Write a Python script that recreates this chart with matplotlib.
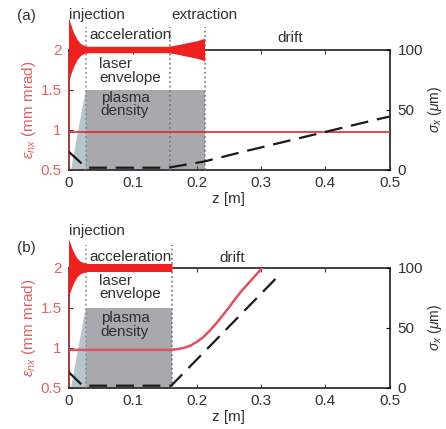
import matplotlib
matplotlib.use("Agg")
import matplotlib.pyplot as plt

plt.rcParams['font.family'] = ['Liberation Sans', 'DejaVu Sans']
plt.rcParams['mathtext.fontset'] = 'custom'
plt.rcParams['mathtext.rm'] = 'Liberation Sans'
plt.rcParams['mathtext.it'] = 'Liberation Sans:italic'

# ---------------- data ----------------
# panel (a)
env_a_z = [0.0, 0.004, 0.008, 0.013, 0.018, 0.024, 0.030, 0.155, 0.170, 0.185, 0.200, 0.212]
env_a_hw = [0.40, 0.30, 0.21, 0.13, 0.08, 0.05, 0.04, 0.04, 0.06, 0.085, 0.11, 0.14]
ramp_a_z = [0.003, 0.026, 0.028]
ramp_a_top = [0.5, 1.5, 1.5]
plasma_a_z = [0.028, 0.212]
plasma_a_top = [1.5, 1.5]
eps_a_z = [0.0, 0.5]
eps_a = [0.965, 0.965]
sig_a_z = [0.0, 0.026, 0.030, 0.155, 0.180, 0.210, 0.272, 0.488, 0.500]
sig_a = [15.0, 2.3, 1.5, 1.5, 3.8, 6.5, 14.8, 42.7, 44.0]
vlines_a = [0.028, 0.158, 0.212]

# panel (b)
env_b_z = [0.0, 0.004, 0.008, 0.013, 0.018, 0.024, 0.030, 0.161]
env_b_hw = [0.36, 0.27, 0.19, 0.12, 0.08, 0.06, 0.05, 0.05]
ramp_b_z = [0.003, 0.026, 0.028]
ramp_b_top = [0.5, 1.5, 1.5]
plasma_b_z = [0.028, 0.161]
plasma_b_top = [1.5, 1.5]
eps_b_z = [0.0, 0.16, 0.17, 0.18, 0.19, 0.20, 0.21, 0.22, 0.23, 0.24, 0.25,
           0.26, 0.27, 0.28, 0.29, 0.30, 0.302]
eps_b = [0.97, 0.97, 0.98, 0.995, 1.025, 1.07, 1.13, 1.21, 1.30, 1.40, 1.50,
         1.61, 1.71, 1.80, 1.89, 1.98, 2.0]
sig_b_z = [0.0, 0.023, 0.030, 0.160, 0.327]
sig_b = [13.0, 1.0, 1.5, 1.5, 93.0]
vlines_b = [0.028, 0.161]

xticks = [0, 0.1, 0.2, 0.3, 0.4, 0.5]
xticklabels = ['0', '0.1', '0.2', '0.3', '0.4', '0.5']
lticks = [0.5, 1, 1.5, 2]
lticklabels = ['0.5', '1', '1.5', '2']
rticks = [0, 50, 100]
rticklabels = ['0', '50', '100']

RED = '#ee2020'
LRED = '#e06060'
TXT = '#303030'
FS = 11

fig = plt.figure(figsize=(4.46, 4.29), dpi=100)


def panel(rect, env_z, env_hw, ramp_z, ramp_top, pl_z, pl_top, ez, ev, sz, sv,
          vls, eps_color, eps_lw, tag, tag_y, labels):
    ax = fig.add_axes(rect)
    ax.set_xlim(0, 0.5)
    ax.set_ylim(0.5, 2)
    # plasma density
    ax.fill_between(ramp_z, [0.5] * len(ramp_z), ramp_top, color='#b7c4cc', lw=0, zorder=1)
    ax.fill_between(pl_z, [0.5] * len(pl_z), pl_top, color='#a9a9ad', lw=0, zorder=1)
    # laser envelope
    lo = [2 - h for h in env_hw]
    hi = [2 + h for h in env_hw]
    ax.fill_between(env_z, lo, hi, color=RED, lw=0, zorder=4, clip_on=False)
    # vertical dotted lines
    for i, v in enumerate(vls):
        ax.plot([v, v], [0.5, 2.28], ls=(0, (1.2, 1.8)), lw=1.1,
                color='#7a8a95' if i == 0 else '#707070', zorder=3, clip_on=False)
    # emittance
    ax.plot(ez, ev, color=eps_color, lw=eps_lw, zorder=5)
    ax.set_xticks(xticks)
    ax.set_xticklabels(xticklabels)
    ax.set_yticks(lticks)
    ax.set_yticklabels(lticklabels)
    ax.tick_params(axis='x', direction='in', top=True, length=3, pad=5,
                   labelsize=FS, labelcolor=TXT, color='#404040')
    ax.tick_params(axis='y', direction='in', right=True, length=3, pad=5,
                   labelsize=FS, labelcolor=LRED, color='#404040')
    ax.set_xlabel('z [m]', fontsize=FS, color=TXT, labelpad=1)
    ax.set_ylabel(r'$\varepsilon_{nx}$ (mm mrad)', fontsize=FS, color=LRED, labelpad=2)
    for s in ['top', 'bottom', 'right']:
        ax.spines[s].set_color('#303030')
        ax.spines[s].set_linewidth(1.3)
    ax.spines['left'].set_color('#903030')
    ax.spines['left'].set_linewidth(1.3)
    ax.set_zorder(1)
    ax.patch.set_visible(False)

    ax2 = ax.twinx()
    ax2.set_ylim(0, 100)
    ax2.plot(sz, sv, color='#1a1a1a', lw=1.6, dashes=(8, 4), zorder=6)
    ax2.set_yticks(rticks)
    ax2.set_yticklabels(rticklabels)
    ax2.tick_params(axis='y', direction='in', length=3, pad=6, labelsize=FS,
                    labelcolor=TXT)
    ax2.set_ylabel(r'$\sigma_x$ ($\mu$m)', fontsize=FS - 1, color=TXT, labelpad=2)
    for s in ax2.spines.values():
        s.set_visible(False)
    ax2.set_zorder(2)

    # annotations
    fig.text(17 / 446, 1 - tag_y / 429, tag, fontsize=FS, color=TXT,
             ha='left', va='center')
    for (x, y, s, ha) in labels:
        ax.text(x, y, s, fontsize=FS, color=TXT, ha=ha, va='center',
                linespacing=0.95, zorder=7)
    return ax


labels_a = [(0.001, 2.43, 'injection', 'left'),
            (0.161, 2.43, 'extraction', 'left'),
            (0.032, 2.18, 'acceleration', 'left'),
            (0.345, 2.14, 'drift', 'center'),
            (0.048, 1.73, 'laser\nenvelope', 'left'),
            (0.050, 1.31, 'plasma\ndensity', 'left')]
labels_b = [(0.001, 2.45, 'injection', 'left'),
            (0.032, 2.135, 'acceleration', 'left'),
            (0.255, 2.12, 'drift', 'center'),
            (0.048, 1.75, 'laser\nenvelope', 'left'),
            (0.050, 1.28, 'plasma\ndensity', 'left')]

L = 68.5 / 446
W = 321 / 446
H = 120 / 429
panel([L, 1 - 169.5 / 429, W, H], env_a_z, env_a_hw, ramp_a_z, ramp_a_top,
      plasma_a_z, plasma_a_top, eps_a_z, eps_a, sig_a_z, sig_a, vlines_a,
      '#e02828', 1.2, '(a)', 16, labels_a)
panel([L, 1 - 387.5 / 429, W, H], env_b_z, env_b_hw, ramp_b_z, ramp_b_top,
      plasma_b_z, plasma_b_top, eps_b_z, eps_b, sig_b_z, sig_b, vlines_b,
      '#e05060', 1.8, '(b)', 248, labels_b)

fig.savefig('out.png', dpi=100)
